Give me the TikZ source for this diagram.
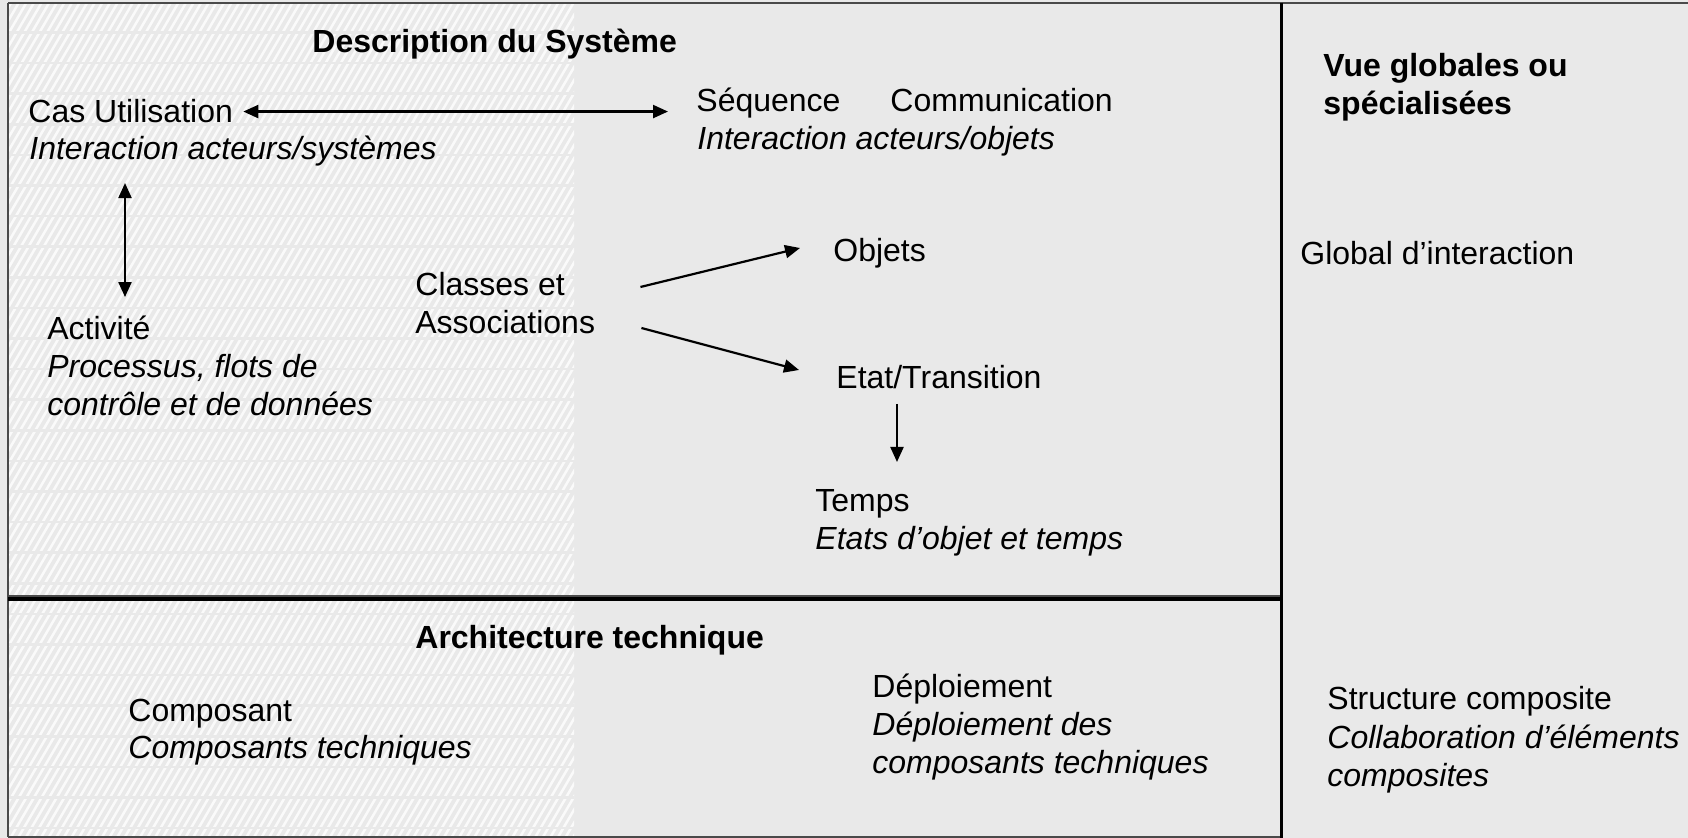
\documentclass[tikz,border=0pt]{standalone}
\usepackage{fontspec}
\setmainfont{Liberation Sans}
\usetikzlibrary{arrows.meta,calc}
\definecolor{panel}{HTML}{E9E9E9}
\definecolor{stripe}{HTML}{FAFAFA}
\definecolor{rule}{HTML}{4A4A4A}

\begin{document}
\begin{tikzpicture}[x=0.5pt,y=-0.5pt,
  txt/.style={anchor=base west, inner sep=0pt, font=\fontsize{16}{19}\selectfont},
  itxt/.style={txt, font=\fontsize{16}{19}\selectfont\itshape},
  head/.style={txt, font=\fontsize{16}{19}\selectfont\bfseries},
  tip/.tip={Triangle[length=7.5pt,width=6.5pt]},
  arr/.style={line width=1.1pt, -tip},
  darr/.style={line width=1.1pt, tip-tip},
]
\useasboundingbox (0,0) rectangle (1688,838);
\fill[panel] (0,0) rectangle (1688,838);

% hatched band on the left
\begin{scope}
  \clip (8,3) rectangle (574,836);
  \foreach \k in {0,...,145} {
    \draw[stripe, line width=1.25pt] ({-500+7.6*\k},840) -- ({-10+7.6*\k},0);
  }
  \foreach \k in {0,...,27} {
    \draw[panel, line width=1.3pt] (0,{2+30.6*\k}) -- (600,{2+30.6*\k});
  }
\end{scope}

% frame lines
\draw[rule, line width=1pt] (8,3) -- (1688,3);
\draw[rule, line width=1pt] (8,3) -- (8,837);
\draw[rule, line width=0.8pt] (8,596) -- (1281,596);
\draw[rule, line width=1pt] (8,837) -- (1281,837);
\draw[black, line width=2pt] (8,599.5) -- (1281,599.5);
\draw[black, line width=1.5pt] (1281,3) -- (1281,838);

% Description du Systeme
\node[head] (desc) at (312,53) {Description du Système};
\node[txt]  (cas)  at (28,123) {Cas Utilisation};
\node[itxt] (casd) at (29,160) {Interaction acteurs/systèmes};
\node[txt]  (seq)  at (696,112) {Séquence\hspace{25pt}Communication};
\node[itxt] (seqd) at (697,150) {Interaction acteurs/objets};
\node[txt]  (act)  at (47,340) {Activité};
\node[itxt] (actd) at (47,378) {\begin{tabular}[t]{@{}l@{}}Processus, flots de\\contrôle et de données\end{tabular}};
\node[txt]  (cls)  at (415,296) {\begin{tabular}[t]{@{}l@{}}Classes et\\Associations\end{tabular}};
\node[txt]  (obj)  at (833,262) {Objets};
\node[txt]  (etat) at (836,389) {Etat/Transition};
\node[txt]  (tps)  at (815,512) {Temps};
\node[itxt] (tpsd) at (815,550) {Etats d’objet et temps};

% Architecture technique
\node[head] (arch)  at (415,649) {Architecture technique};
\node[txt]  (comp)  at (128,722) {Composant};
\node[itxt] (compd) at (128,759) {Composants techniques};
\node[txt]  (dep)   at (872,698) {Déploiement};
\node[itxt] (depd)  at (872,736) {\begin{tabular}[t]{@{}l@{}}Déploiement des\\composants techniques\end{tabular}};

% Vues globales
\node[head] (vue)     at (1323,77) {\begin{tabular}[t]{@{}l@{}}Vue globales ou\\spécialisées\end{tabular}};
\node[txt]  (glob)    at (1300,265) {Global d’interaction};
\node[txt]  (struct)  at (1327,710) {Structure composite};
\node[itxt] (structd) at (1327,749) {\begin{tabular}[t]{@{}l@{}}Collaboration d’éléments\\composites\end{tabular}};

% connectors
\draw[darr] ([xshift=5pt]cas.east) -- ([xshift=-14pt]cas.east -| seq.west);
\draw[darr] ([shift={(96,16)}]casd.south west) -- ([shift={(78,-19)}]act.north west);
\draw[arr] ([shift={(45,-9)}]cls.base east) -- ([shift={(-33,-14)}]obj.base west);
\draw[arr] ([shift={(46,32)}]cls.base east) -- ([shift={(-37,-19)}]etat.base west);
\draw[arr] ([shift={(61,15)}]etat.base west) -- ([shift={(82,-50)}]tps.base west);
\end{tikzpicture}
\end{document}
